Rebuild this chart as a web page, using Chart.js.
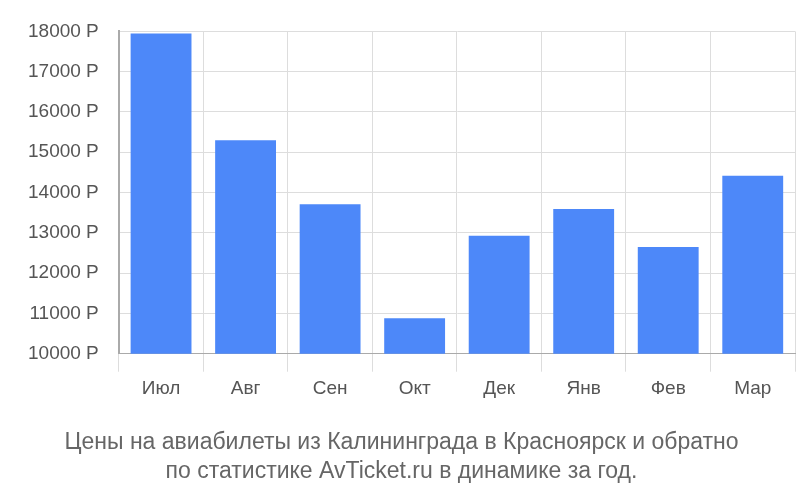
<!DOCTYPE html>
<html>
<head>
<meta charset="utf-8">
<script src="https://cdn.jsdelivr.net/npm/chart.js@4"></script>
<style>
  body { margin: 0; background: #fff; }
  #wrap { width: 800px; height: 500px; }
</style>
</head>
<body>
<div id="wrap"><canvas id="chart"></canvas></div>
<script>
const months = ['Июл', 'Авг', 'Сен', 'Окт', 'Дек', 'Янв', 'Фев', 'Мар'];
const prices = [17950, 15300, 13710, 10880, 12930, 13590, 12650, 14420];
const yTicks = [10000, 11000, 12000, 13000, 14000, 15000, 16000, 17000, 18000];

const ctx = document.getElementById('chart').getContext('2d');
new Chart(ctx, {
    type: 'bar',
    data: {
        labels: months,
        datasets: [{
            data: prices,
            backgroundColor: '#4d88f9',
            barPercentage: 0.72,
            categoryPercentage: 1
        }]
    },
    options: {
        responsive: true,
        maintainAspectRatio: false,
        animation: false,
        layout: { padding: { top: -11, right: 5, left: 8, bottom: 14 } },
        scales: {
            x: {
                grid: { color: '#dddddd', tickLength: 18, drawOnChartArea: true },
                border: { color: '#aaaaaa' },
                ticks: { color: '#555', font: { family: 'Liberation Sans', size: 19 }, padding: 6 }
            },
            y: {
                min: 10000,
                max: 18000,
                afterBuildTicks: axis => { axis.ticks = yTicks.map(v => ({ value: v })); },
                grid: { color: '#dddddd', tickLength: 0 },
                border: { color: '#aaaaaa', width: 2 },
                ticks: {
                    color: '#555',
                    font: { family: 'Liberation Sans', size: 19 },
                    padding: 20,
                    callback: v => v + ' Р'
                }
            }
        },
        plugins: {
            legend: { display: false },
            tooltip: { enabled: false },
            title: {
                display: true,
                position: 'bottom',
                text: ['Цены на авиабилеты из Калининграда в Красноярск и обратно', 'по статистике AvTicket.ru в динамике за год.'],
                color: '#666',
                font: { family: 'Liberation Sans', size: 23, weight: 'normal', lineHeight: 1.25 },
                padding: { top: 22, bottom: 0 }
            }
        }
    }
});
</script>
</body>
</html>
